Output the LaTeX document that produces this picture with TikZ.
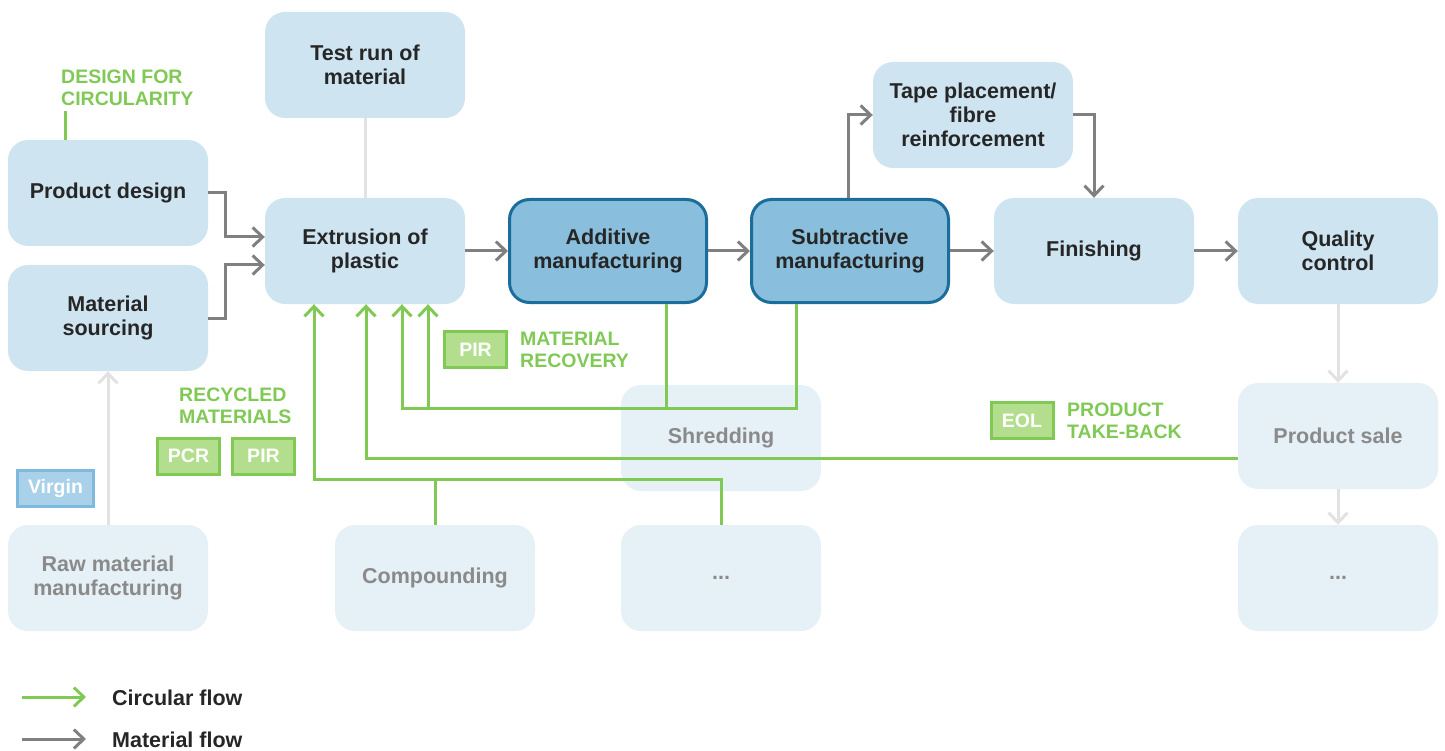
\documentclass[tikz,border=0pt]{standalone}
\usepackage{fontspec}
\setmainfont{Liberation Sans}
\usetikzlibrary{arrows.meta,positioning,calc}
\definecolor{boxbg}{HTML}{CFE4F1}
\definecolor{boxdark}{HTML}{89BEDC}
\definecolor{boxline}{HTML}{1B6E9B}
\definecolor{boxfade}{HTML}{E6F0F7}
\definecolor{cgreen}{HTML}{80C955}
\definecolor{tagbg}{HTML}{B2DE8E}
\definecolor{virginbg}{HTML}{A9D1EA}
\definecolor{virginline}{HTML}{7FB9DE}
\definecolor{txt}{HTML}{262626}
\definecolor{txtfade}{HTML}{8A8A8A}
\definecolor{flowgray}{HTML}{808080}
\definecolor{fadegray}{HTML}{E2E2E2}
\newcommand{\boxfont}{\bfseries\fontsize{21.5}{24}\selectfont}
\newcommand{\tagfont}{\bfseries\fontsize{19.5}{22}\selectfont}
\tikzset{
  box/.style  = {rounded corners=20pt, fill=boxbg, minimum width=200pt, minimum height=106pt,
                 align=center, font=\boxfont, text=txt, inner sep=2pt},
  hbox/.style = {box, fill=boxdark, draw=boxline, line width=3pt,
                 minimum width=197pt, minimum height=103pt},
  fbox/.style = {box, fill=boxfade, text=txtfade},
  tag/.style  = {fill=tagbg, draw=cgreen, line width=3pt, text=white, font=\tagfont,
                 minimum width=62pt, minimum height=36pt, inner sep=0pt},
  vtag/.style = {tag, fill=virginbg, draw=virginline, minimum width=76pt},
  lbl/.style  = {text=cgreen, font=\tagfont, align=left, inner sep=0pt, anchor=west},
  ar/.style   = {-{Straight Barb[length=10pt,width=19pt]}, line width=3pt, flowgray},
  circ/.style = {line width=3pt, cgreen},
  car/.style  = {circ, -{Straight Barb[length=10pt,width=19pt]}},
  fade/.style = {line width=3pt, fadegray},
  far/.style  = {fade, -{Straight Barb[length=10pt,width=19pt]}},
}

\begin{document}
\begin{tikzpicture}[x=1pt,y=-1pt]
  \useasboundingbox (0,0) rectangle (1445,751);

  % main chain
  \node[box]  (test)   at (365,65)   {Test run of\\material};
  \node[box]  (design) at (108,193)  {Product design};
  \node[box]  (source) at (108,318)  {Material\\sourcing};
  \node[box]  (ext)    at (365,251)  {Extrusion of\\plastic};
  \node[hbox] (add)    at (608,251)  {Additive\\manufacturing};
  \node[hbox] (sub)    at (850,251)  {Subtractive\\manufacturing};
  \node[box]  (tape)   at (973,115)  {Tape placement/\\fibre\\reinforcement};
  \node[box]  (fin)    at (1094,251) {Finishing};
  \node[box]  (qc)     at (1338,251) {Quality\\control};

  % faded steps
  \node[fbox] (shred)  at (721,438)  {Shredding};
  \node[fbox] (sale)   at (1338,436) {Product sale};
  \node[fbox] (raw)    at (108,578)  {Raw material\\manufacturing};
  \node[fbox] (comp)   at (435,578)  {Compounding};
  \node[fbox] (more)   at (721,578)  {...};
  \node[fbox] (more2)  at (1338,578) {...};

  % tags and labels
  \node[lbl] (dfc) at (61,88) {DESIGN FOR\\CIRCULARITY};
  \node[tag] (pirA) at (475.5,349.5) {PIR};
  \node[lbl] (mrec) at (520,350) {MATERIAL\\RECOVERY};
  \node[lbl] (rcyc) at (179,406) {RECYCLED\\MATERIALS};
  \node[tag] (pcr)  at (188.5,456) {PCR};
  \node[tag] (pirB) at (263.5,456) {PIR};
  \node[vtag] (virgin) at (55.5,488.5) {Virgin};
  \node[tag] (eol)  at (1022,420.5) {EOL};
  \node[lbl] (tback) at (1067,421) {PRODUCT\\TAKE-BACK};

  % material flow
  \draw[ar] (design.east) -- ++(17,0) |- ([yshift=14pt]ext.west);
  \draw[ar] (source.east) -- ++(17,0) |- ([yshift=-14pt]ext.west);
  \draw[fade] (test) -- (ext);
  \draw[ar] (ext) -- (add);
  \draw[ar] (add) -- (sub);
  \draw[ar] (sub) -- (fin);
  \draw[ar] (fin) -- (qc);
  \draw[ar] ([xshift=-2pt]sub.north) |- (tape.west);
  \draw[ar] (tape.east) -| (fin.north);
  \draw[far] (raw) -- (source);
  \draw[far] (qc) -- (sale);
  \draw[far] (sale) -- (more2);

  % circular flow
  \draw[circ] ([xshift=4pt,yshift=-5pt]dfc.south west) -- ([xshift=4pt]dfc.south west |- design.north);
  \coordinate (rec) at (402,408);
  \coordinate (rec2) at (428,408);
  \draw[car] ([xshift=-54pt]sub.south) |- (rec) -- (rec |- ext.south);
  \draw[circ] ([xshift=58pt]add.south) -- ([xshift=58pt]add.south |- rec);
  \draw[car] (rec2) -- (rec2 |- ext.south);
  \draw[car] ([yshift=-22pt]sale.west) -| ([xshift=1pt]ext.south);
  \coordinate (pcrj) at (314,479);
  \draw[car] (more.north) |- (pcrj) -- (pcrj |- ext.south);
  \draw[circ] (comp.north) -- (comp.north |- pcrj);

  % legend
  \coordinate (lgA) at (22,697);
  \coordinate (lgB) at (86,697);
  \coordinate (lgC) at (22,739);
  \coordinate (lgD) at (86,739);
  \draw[car] (lgA) -- (lgB);
  \draw[ar] (lgC) -- (lgD);
  \node[anchor=west, font=\boxfont, text=txt, inner sep=0pt] (lgcirc) at (112,698) {Circular flow};
  \node[anchor=west, font=\boxfont, text=txt, inner sep=0pt] (lgmat) at (112,740) {Material flow};
\end{tikzpicture}
\end{document}
